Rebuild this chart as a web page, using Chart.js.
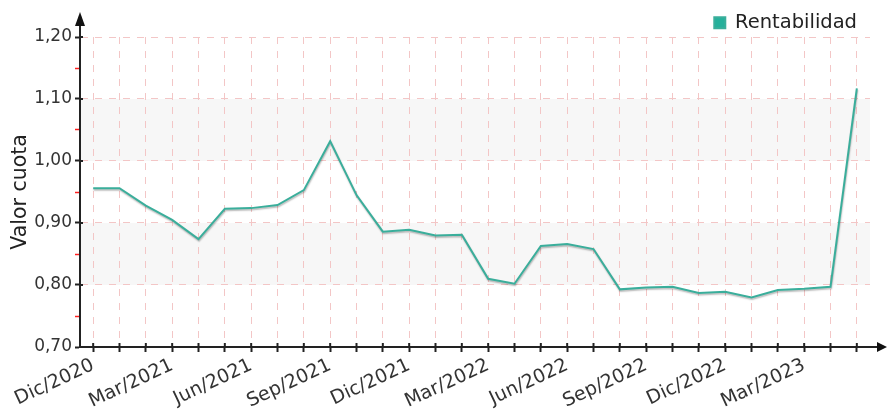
<!DOCTYPE html>
<html><head><meta charset="utf-8">
<script src="https://cdn.jsdelivr.net/npm/chart.js@4.4.1/dist/chart.umd.min.js"></script>
<style>html,body{margin:0;padding:0;background:#fff;}#wrap{width:888px;height:416px;}</style>
</head><body><div id="wrap"><canvas id="c" width="888" height="416"></canvas></div>
<script>
const categories = ['Dic/2020','Ene/2021','Feb/2021','Mar/2021','Abr/2021','May/2021','Jun/2021','Jul/2021','Ago/2021','Sep/2021','Oct/2021','Nov/2021','Dic/2021','Ene/2022','Feb/2022','Mar/2022','Abr/2022','May/2022','Jun/2022','Jul/2022','Ago/2022','Sep/2022','Oct/2022','Nov/2022','Dic/2022','Ene/2023','Feb/2023','Mar/2023','Abr/2023','May/2023'];
const valorCuota = [0.956,0.956,0.928,0.905,0.874,0.923,0.924,0.929,0.953,1.032,0.945,0.886,0.889,0.880,0.881,0.810,0.802,0.863,0.866,0.858,0.793,0.796,0.797,0.787,0.789,0.780,0.792,0.794,0.797,1.117];
const seriesName = 'Rentabilidad';
const yMin = 0.7, yMax = 1.2, yStep = 0.05;
const shadedBands = [[0.8,0.9],[1.0,1.1]];
const labelEvery = 3;

const isMajor = v => Math.round(v*20) % 2 === 0;
const fmt = v => v.toFixed(2).replace('.', ',');
const FONT = 'DejaVu Sans';

const decor = {
  id:'decor',
  beforeDraw(chart){
    const {ctx, chartArea:a, scales:{y}} = chart;
    ctx.save(); ctx.fillStyle='#f7f7f7';
    shadedBands.forEach(([lo,hi])=>{
      const t=y.getPixelForValue(hi), b=y.getPixelForValue(lo);
      ctx.fillRect(a.left, t, a.right-a.left, b-t);
    });
    ctx.restore();
  },
  beforeDatasetDraw(chart){
    const ctx=chart.ctx; ctx.save();
    ctx.shadowColor='rgba(0,0,0,0.28)'; ctx.shadowOffsetX=0.5; ctx.shadowOffsetY=1.5; ctx.shadowBlur=1.5;
  },
  afterDatasetDraw(chart){ chart.ctx.restore(); },
  afterDraw(chart){
    const {ctx, chartArea:a, scales:{x,y}, width} = chart;
    ctx.save();
    ctx.strokeStyle='#222'; ctx.fillStyle='#111'; ctx.lineWidth=2;
    ctx.beginPath(); ctx.moveTo(a.left, a.top); ctx.lineTo(a.left, a.top-14); ctx.stroke();
    ctx.beginPath(); ctx.moveTo(a.left, a.top-25); ctx.lineTo(a.left-5, a.top-11); ctx.lineTo(a.left+5, a.top-11); ctx.closePath(); ctx.fill();
    ctx.beginPath(); ctx.moveTo(a.right, a.bottom); ctx.lineTo(width-8, a.bottom); ctx.stroke();
    ctx.beginPath(); ctx.moveTo(width-1, a.bottom); ctx.lineTo(width-11, a.bottom-5); ctx.lineTo(width-11, a.bottom+5); ctx.closePath(); ctx.fill();
    ctx.lineWidth=2;
    x.ticks.forEach((t,i)=>{ const px=x.getPixelForTick(i); ctx.beginPath(); ctx.moveTo(px, a.bottom-4); ctx.lineTo(px, a.bottom); ctx.stroke(); });
    y.ticks.forEach((t,i)=>{ if(!isMajor(t.value)) return; const py=y.getPixelForTick(i); ctx.beginPath(); ctx.moveTo(a.left, py); ctx.lineTo(a.left+3, py); ctx.stroke(); });
    ctx.restore();
  }
};

new Chart(document.getElementById('c'), {
  type:'line',
  data:{ labels: categories, datasets:[{ label: seriesName, data: valorCuota, borderColor:'#3aae9b', backgroundColor:'#25b09b', borderWidth:2, pointRadius:0, tension:0, fill:false }]},
  options:{
    responsive:false, animation:false, devicePixelRatio:1,
    layout:{padding:{left:0,right:18,top:0,bottom:0}},
    plugins:{
      legend:{ position:'top', align:'end', maxHeight:37, labels:{ boxWidth:11, boxHeight:11, padding:13, color:'#222', font:{family:FONT, size:19.5} } },
      tooltip:{enabled:false}
    },
    scales:{
      x:{
        offset:true,
        grid:{ offset:false, color:'#f3c6c6', lineWidth:1, tickLength:5, tickColor:'#222', tickWidth:2 },
        border:{ display:true, color:'#222', width:2, dash:[7,7] },
        ticks:{ autoSkip:false, maxRotation:25, minRotation:25, padding:2, color:'#333', font:{family:FONT, size:19},
          callback:(v,i)=> i%labelEvery===0 ? categories[i] : '' },
        afterFit:s=>{ s.height = 69; }
      },
      y:{
        min:yMin, max:yMax,
        ticks:{ stepSize:yStep, autoSkip:false, padding:3, color:'#333', font:{family:FONT, size:17},
          callback:v=> isMajor(v) ? fmt(v) : '' },
        grid:{ color:c=> isMajor(c.tick.value) ? '#f3c6c6' : 'rgba(0,0,0,0)', lineWidth:1, tickLength:5,
          tickColor:c=> isMajor(c.tick.value) ? '#222' : '#ff2020', tickWidth:c=> isMajor(c.tick.value) ? 2 : 1.5 },
        border:{ display:true, color:'#222', width:2, dash:[7,7] },
        title:{ display:true, text:'Valor cuota', color:'#222', font:{family:FONT, size:20.5}, padding:{top:8,bottom:0} },
        afterFit:s=>{ s.width = 80; }
      }
    }
  },
  plugins:[decor]
});
</script></body></html>
